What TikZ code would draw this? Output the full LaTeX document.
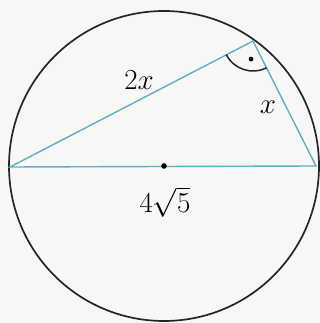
\RequirePackage{fix-cm}
\documentclass[tikz,border=0pt]{standalone}
\usepackage{tikz}
\usetikzlibrary{calc}
\definecolor{chordblue}{RGB}{95,175,195}
\definecolor{paper}{RGB}{247,247,245}

\begin{document}
\begin{tikzpicture}[
  x=1pt, y=1pt,
  every node/.style={font=\fontsize{29}{33}\selectfont, inner sep=0pt},
  rim/.style={draw=black!85, line width=1.7pt},
  chord/.style={draw=chordblue, line width=1.4pt},
  anglemark/.style={draw=black!85, line width=1.5pt}
]
\fill[paper] (0,0) rectangle (320,323);
\useasboundingbox (0,0) rectangle (320,323);

\coordinate (center) at (164,157);
\coordinate (left) at (10,156);
\coordinate (right) at (316,157);
\coordinate (apex) at (253,282);

\draw[rim] (center) circle[radius=155];
\draw[chord] (left) -- (right) -- (apex) -- cycle;

\draw[anglemark] ($(apex)+(207:30)$) arc[start angle=207, end angle=297, radius=30];
\fill (251,264) circle[radius=2.4];
\fill (center) circle[radius=2.8];

\node (long) at (139,243) {$2x$};
\node (short) at (268,216) {$x$};
\node (diam) at (165,121) {$4\sqrt{5}$};
\end{tikzpicture}
\end{document}
